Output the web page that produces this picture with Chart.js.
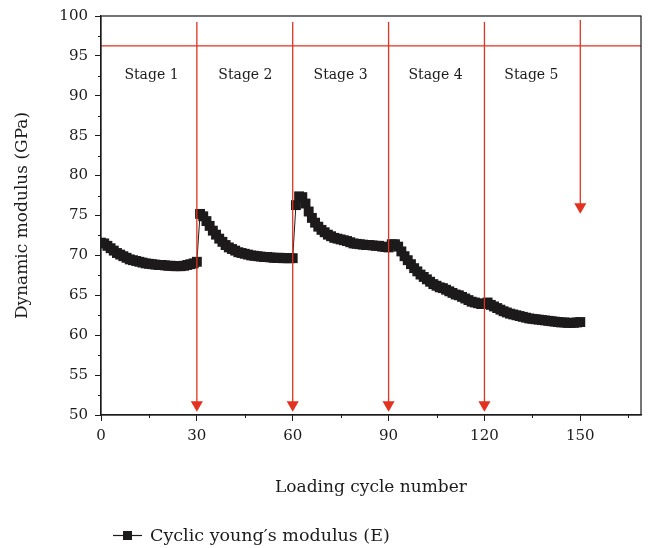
<!DOCTYPE html>
<html>
<head>
<meta charset="utf-8">
<script src="https://cdn.jsdelivr.net/npm/chart.js@4.4.1/dist/chart.umd.min.js"></script>
<style>
  html, body { margin: 0; padding: 0; background: #fff; }
  #wrap { width: 652px; height: 548px; position: relative; }
</style>
</head>
<body>
<div id="wrap"><canvas id="chart"></canvas></div>
<script>
// --- Dynamic modulus per loading cycle, one array per stage ---
const stageStart = [0, 31, 61, 91, 121];
const stage1E = [71.6, 71.5, 71.2, 70.9, 70.6, 70.3, 70.1, 69.9, 69.7, 69.5, 69.4, 69.3, 69.2, 69.1, 69.0, 68.95,
  68.9, 68.85, 68.8, 68.8, 68.75, 68.7, 68.7, 68.65, 68.65, 68.65, 68.7, 68.8, 68.9, 69.0, 69.2];
const stage2E = [75.2, 74.9, 74.3, 73.7, 73.1, 72.6, 72.1, 71.7, 71.3, 71.0, 70.8, 70.6, 70.4, 70.3, 70.2,
  70.1, 70.0, 69.95, 69.9, 69.85, 69.8, 69.8, 69.75, 69.7, 69.7, 69.7, 69.65, 69.65, 69.65, 69.65];
const stage3E = [76.3, 77.4, 77.3, 76.5, 75.5, 74.7, 74.1, 73.6, 73.2, 72.9, 72.6, 72.4, 72.2, 72.1, 72.0,
  71.9, 71.8, 71.65, 71.5, 71.45, 71.4, 71.35, 71.3, 71.3, 71.25, 71.2, 71.2, 71.1, 71.05, 71.0];
const stage4E = [71.4, 71.4, 71.1, 70.5, 69.9, 69.4, 68.9, 68.4, 68.0, 67.6, 67.3, 67.0, 66.7, 66.4, 66.2,
  66.0, 65.9, 65.7, 65.5, 65.3, 65.1, 65.0, 64.8, 64.6, 64.4, 64.2, 64.1, 64.0, 63.9, 63.9];
const stage5E = [64.1, 63.8, 63.6, 63.4, 63.2, 63.0, 62.85, 62.7, 62.6, 62.5, 62.4, 62.3, 62.2, 62.1, 62.05,
  62.0, 61.95, 61.9, 61.85, 61.8, 61.75, 61.7, 61.65, 61.6, 61.6, 61.55, 61.55, 61.55, 61.6, 61.65];

// stage boundaries (red arrows) and the reference line
const boundaryCycles = [30, 60, 90, 120];
const boundaryTop = 99.25;
const boundaryArrowAt = 51.3;
const lastArrowCycle = 150;
const lastArrowTop = 99.5;
const lastArrowAt = 76.1;
const refLineE = 96.25;

const stageNames = ["Stage 1", "Stage 2", "Stage 3", "Stage 4", "Stage 5"];
const stageNameCycle = [15.8, 45.2, 75, 104.7, 134.7];
const stageNameE = 92.5;

const xTicks = [0, 30, 60, 90, 120, 150];
const xMinor = [15, 45, 75, 105, 135, 165];
const yMinor = [52.5, 57.5, 62.5, 67.5, 72.5, 77.5, 82.5, 87.5, 92.5, 97.5];

const legendText = "Cyclic young\u2032s modulus (E)";

const FONT = "'DejaVu Serif', 'Liberation Serif', serif";
const RED = "#e3321f";
const INK = "#1c1a1a";

const points = [];
[stage1E, stage2E, stage3E, stage4E, stage5E].forEach((arr, s) => {
  arr.forEach((v, i) => points.push({ x: stageStart[s] + i, y: v }));
});

function arrowSet(cx, top, tip) {
  return {
    data: [{ x: cx, y: top }, { x: cx, y: tip }],
    showLine: true,
    borderColor: RED,
    backgroundColor: RED,
    borderWidth: 1.3,
    pointRadius: [0, 7],
    pointStyle: "triangle",
    rotation: 180,
    pointBorderWidth: 0,
    order: 1
  };
}

const datasets = [
  {
    data: points,
    showLine: true,
    borderColor: INK,
    borderWidth: 1,
    backgroundColor: INK,
    pointStyle: "rect",
    pointRadius: 7,
    pointBorderWidth: 0,
    order: 2
  },
  {
    data: [{ x: 0, y: refLineE }, { x: 169, y: refLineE }],
    showLine: true,
    borderColor: RED,
    borderWidth: 1.3,
    pointRadius: 0,
    order: 1
  }
];
boundaryCycles.forEach(c => datasets.push(arrowSet(c, boundaryTop, boundaryArrowAt)));
datasets.push(arrowSet(lastArrowCycle, lastArrowTop, lastArrowAt));

// frame, minor ticks, stage names and the legend
const extras = {
  id: "extras",
  afterDraw(chart) {
    const { ctx, chartArea: a, scales: { x, y } } = chart;
    ctx.save();
    ctx.strokeStyle = INK;
    ctx.lineWidth = 1.2;
    ctx.strokeRect(a.left, a.top, a.right - a.left, a.bottom - a.top);

    ctx.lineWidth = 1;
    ctx.beginPath();
    xMinor.forEach(v => {
      const px = Math.round(x.getPixelForValue(v)) + 0.5;
      ctx.moveTo(px, a.bottom);
      ctx.lineTo(px, a.bottom + 3);
    });
    yMinor.forEach(v => {
      const py = Math.round(y.getPixelForValue(v)) + 0.5;
      ctx.moveTo(a.left, py);
      ctx.lineTo(a.left - 3, py);
    });
    ctx.stroke();

    ctx.fillStyle = INK;
    ctx.font = "14px " + FONT;
    ctx.textAlign = "center";
    ctx.textBaseline = "middle";
    stageNames.forEach((t, i) => {
      ctx.fillText(t, x.getPixelForValue(stageNameCycle[i]), y.getPixelForValue(stageNameE));
    });

    // legend
    const ly = 535;
    ctx.lineWidth = 1.2;
    ctx.beginPath();
    ctx.moveTo(113, ly + 0.5);
    ctx.lineTo(142, ly + 0.5);
    ctx.stroke();
    ctx.fillRect(123, ly - 4, 9, 9);
    ctx.font = "17.5px " + FONT;
    ctx.textAlign = "left";
    ctx.fillText(legendText, 150, ly + 1);
    ctx.restore();
  }
};

new Chart(document.getElementById("chart").getContext("2d"), {
  type: "scatter",
  data: { datasets: datasets },
  plugins: [extras],
  options: {
    responsive: true,
    maintainAspectRatio: false,
    animation: false,
    events: [],
    layout: { padding: { top: 15, right: 11, bottom: 43, left: 0 } },
    plugins: { legend: { display: false }, tooltip: { enabled: false } },
    scales: {
      x: {
        type: "linear",
        min: 0,
        max: 169,
        afterBuildTicks: s => { s.ticks = xTicks.map(v => ({ value: v })); },
        afterFit: s => { s.height = 90; },
        grid: { drawOnChartArea: false, drawTicks: true, tickLength: 6, color: INK },
        border: { display: true, color: INK, width: 1.2 },
        ticks: { color: INK, padding: 6, maxRotation: 0, font: { family: FONT, size: 15 } },
        title: {
          display: true,
          text: "Loading cycle number",
          color: INK,
          padding: { top: 0, bottom: 7 },
          font: { family: FONT, size: 17 }
        }
      },
      y: {
        min: 50,
        max: 100,
        ticks: { stepSize: 5, color: INK, padding: 7, font: { family: FONT, size: 15 } },
        afterFit: s => { s.width = 101; },
        grid: { drawOnChartArea: false, drawTicks: true, tickLength: 6, color: INK },
        border: { display: true, color: INK, width: 1.2 },
        title: {
          display: true,
          text: "Dynamic modulus (GPa)",
          color: INK,
          padding: { top: 12, bottom: 0 },
          font: { family: FONT, size: 17 }
        }
      }
    }
  }
});
</script>
</body>
</html>
